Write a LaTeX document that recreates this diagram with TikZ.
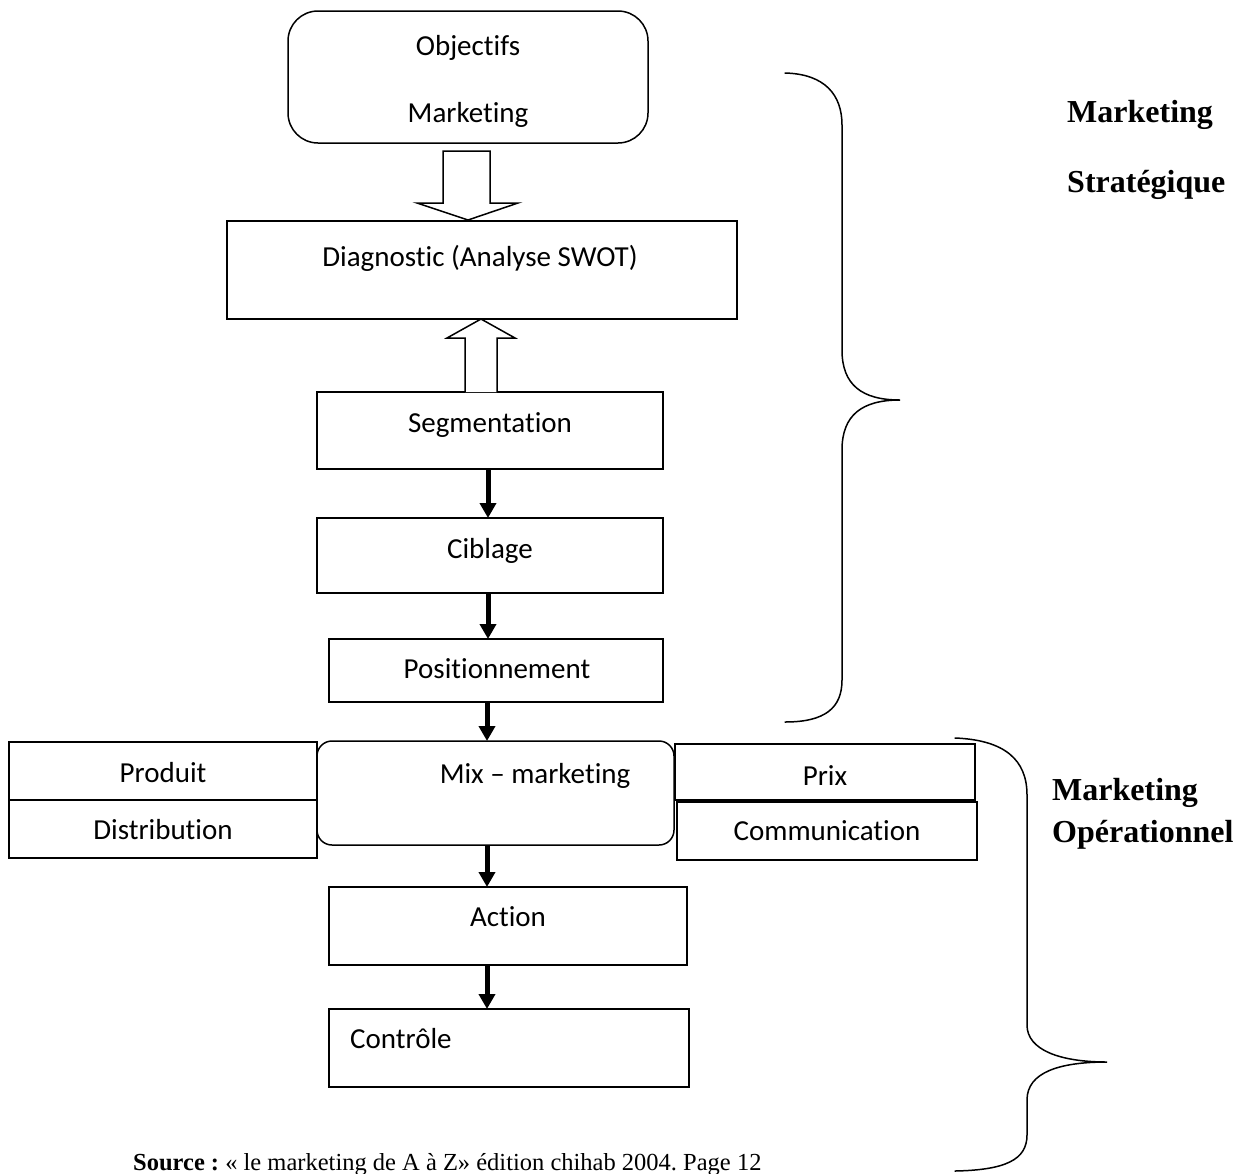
\documentclass[tikz,border=0pt]{standalone}
\usepackage{fontspec}
\setmainfont{Liberation Serif}
\newfontfamily\calibri[RawFeature=-liga]{Carlito}
\usetikzlibrary{arrows.meta}
\frenchspacing
\begin{document}
\begin{tikzpicture}[x=1pt,y=-1pt,
  box/.style={draw, line width=1.5pt, rectangle, inner sep=0pt, outer sep=0pt},
  txt/.style={font=\calibri\fontsize{29}{34}\selectfont, inner sep=0pt, anchor=base},
  side/.style={font=\bfseries\fontsize{32}{38}\selectfont, inner sep=0pt, anchor=base west},
  flow/.style={line width=5pt, -{Triangle[length=15pt,width=16pt]}},
  hollow/.style={draw, line width=1.5pt, fill=white, line join=miter},
  brace/.style={line width=1.5pt, line cap=round}]

\useasboundingbox (0,0) rectangle (1241,1173);

% ---- boxes of the chain ----
\node[box, rounded corners=30pt, minimum width=360pt, minimum height=132pt] (obj) at (468,77) {};
\node[box, minimum width=510pt, minimum height=98pt] (diag) at (482,270) {};
\node[box, minimum width=346pt, minimum height=77pt] (seg) at (490,430.5) {};
\node[box, minimum width=346pt, minimum height=75pt] (cib) at (490,555.5) {};
\node[box, minimum width=334pt, minimum height=63pt] (pos) at (496,670.5) {};
\node[box, minimum width=308pt, minimum height=58pt] (prod) at (163,771) {};
\node[box, minimum width=308pt, minimum height=58pt] (dist) at (163,829) {};
\node[box, minimum width=300pt, minimum height=56pt] (prix) at (825,772) {};
\node[box, minimum width=300pt, minimum height=58pt] (comm) at (827,831) {};
\node[box, rounded corners=15pt, fill=white, minimum width=357pt, minimum height=104pt] (mix) at (495.5,793) {};
\node[box, minimum width=358pt, minimum height=78pt] (act) at (508,926) {};
\node[box, minimum width=360pt, minimum height=78pt] (ctl) at (509,1048) {};

% ---- texts of the boxes ----
\node[txt] (tobj1) at (468,55) {Objectifs};
\node[txt] (tobj2) at (468,122) {Marketing};
\node[txt] (tdiag) at (480,266) {Diagnostic (Analyse SWOT)};
\node[txt] (tseg) at (490,432) {Segmentation};
\node[txt] (tcib) at (490,558) {Ciblage};
\node[txt] (tpos) at (497,678) {Positionnement};
\node[txt] (tmix) at (535,783) {Mix – marketing};
\node[txt] (tprod) at (163,782) {Produit};
\node[txt] (tdist) at (163,839) {Distribution};
\node[txt] (tprix) at (825,785) {Prix};
\node[txt] (tcomm) at (827,840) {Communication};
\node[txt] (tact) at (508,926) {Action};
\node[txt, anchor=base west] (tctl) at (350,1048) {Contrôle};

% ---- hollow block arrows ----
\draw[hollow, shift={(obj.south)}] (-25,8) -- (-25,60) -- (-51,60) -- (0,77)
  -- (50,60) -- (22,60) -- (22,8) -- cycle;
\draw[hollow, shift={(diag.south)}] (-17,73) -- (-17,19) -- (-35,19) -- (-1,0)
  -- (33,19) -- (15,19) -- (15,73);

% ---- solid arrows ----
\coordinate (ax) at (488,0);
\coordinate (bx) at (487,0);
\draw[flow] (seg.south -| ax) -- (cib.north -| ax);
\draw[flow] (cib.south -| ax) -- (pos.north -| ax);
\draw[flow] (pos.south -| bx) -- (mix.north -| bx);
\draw[flow] (mix.south -| bx) -- (act.north -| bx);
\draw[flow] (act.south -| bx) -- (ctl.north -| bx);

% ---- braces ----
\draw[brace] (785,73) .. controls (825,74) and (842,95) .. (842,125) -- (842,350)
  .. controls (842,385) and (862,400) .. (900,400)
  .. controls (862,400) and (842,415) .. (842,450) -- (842,680)
  .. controls (842,708) and (825,722) .. (785,722);
\draw[brace] (955,738) .. controls (1005,740) and (1027,760) .. (1027,795) -- (1027,1025)
  .. controls (1027,1050) and (1060,1062) .. (1107,1062)
  .. controls (1060,1062) and (1027,1072) .. (1027,1100) -- (1027,1135)
  .. controls (1027,1160) and (1005,1170) .. (955,1171);

% ---- side labels ----
\node[side] (ms1) at (1067,122) {Marketing};
\node[side] (ms2) at (1067,192) {Stratégique};
\node[side] (mo1) at (1052,800) {Marketing};
\node[side] (mo2) at (1052,842) {Opérationnel};

% ---- source line ----
\node[anchor=base west, inner sep=0pt, font=\fontsize{24.5}{29}\selectfont] (src) at (133,1170)
  {\textbf{Source :} « le marketing de A à Z» édition chihab 2004. Page 12};
\end{tikzpicture}
\end{document}
